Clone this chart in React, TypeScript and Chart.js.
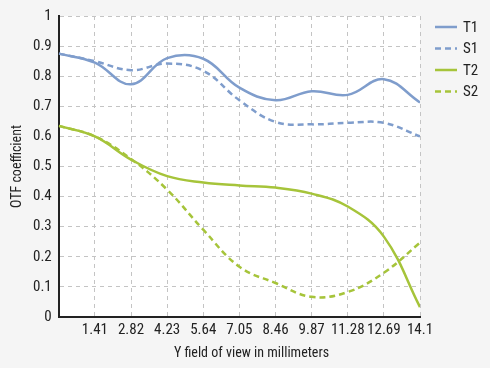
import React, { useEffect, useRef } from "react";
import { Chart, registerables } from "chart.js";

Chart.register(...registerables);

const xTicks = [0, 1.41, 2.82, 4.23, 5.64, 7.05, 8.46, 9.87, 11.28, 12.69, 14.1];
const yTicks = [0, 0.1, 0.2, 0.3, 0.4, 0.5, 0.6, 0.7, 0.8, 0.9, 1];

const seriesNames = ["T1", "S1", "T2", "S2"];
const t1 = [0.875, 0.845, 0.773, 0.86, 0.858, 0.762, 0.72, 0.75, 0.738, 0.79, 0.713];
const s1 = [0.875, 0.85, 0.82, 0.842, 0.818, 0.72, 0.648, 0.64, 0.645, 0.645, 0.6];
const t2 = [0.635, 0.6, 0.523, 0.468, 0.447, 0.437, 0.43, 0.41, 0.367, 0.267, 0.033];
const s2 = [0.635, 0.6, 0.525, 0.423, 0.29, 0.167, 0.113, 0.067, 0.083, 0.147, 0.247];

const xTitle = "Y field of view in millimeters";
const yTitle = "OTF coefficient";

const BLUE = "#7f9dcc";
const GREEN = "#a6c43a";
const FONT = "'Roboto Condensed', 'Liberation Sans Narrow', Roboto, sans-serif";

const toPts = (vals: number[]) => vals.map((v, i) => ({ x: xTicks[i], y: v }));

export default function App() {
  const ref = useRef<HTMLCanvasElement | null>(null);
  useEffect(() => {
    if (!ref.current) return;
    const bgPlugin = {
      id: "bgPlugin",
      beforeDraw(chart: any) {
        const { ctx, chartArea } = chart;
        ctx.save();
        ctx.fillStyle = "#f5f5f5";
        ctx.fillRect(0, 0, chart.width, chart.height);
        ctx.fillStyle = "#ffffff";
        ctx.fillRect(chartArea.left, chartArea.top, chartArea.right - chartArea.left, chartArea.bottom - chartArea.top);
        ctx.restore();
      },
      afterDraw(chart: any) {
        const { ctx, chartArea } = chart;
        ctx.save();
        const ds = chart.data.datasets;
        ds.forEach((d: any, i: number) => {
          const y = 27 + i * 21.5;
          ctx.strokeStyle = d.borderColor;
          ctx.lineWidth = 2.5;
          ctx.setLineDash(d.borderDash || []);
          ctx.beginPath();
          ctx.moveTo(435, y);
          ctx.lineTo(457, y);
          ctx.stroke();
          ctx.setLineDash([]);
          ctx.fillStyle = "#222";
          ctx.font = `15px ${FONT}`;
          ctx.textBaseline = "middle";
          ctx.textAlign = "left";
          ctx.fillText(d.label, 463, y + 1);
        });
        ctx.font = `14px ${FONT}`;
        ctx.textAlign = "center";
        ctx.textBaseline = "middle";
        ctx.fillStyle = "#222";
        ctx.fillText(xTitle, 251.5, 353.5);
        ctx.translate(17.5, (chartArea.top + chartArea.bottom) / 2);
        ctx.rotate(-Math.PI / 2);
        ctx.fillText(yTitle, 0, 0);
        ctx.restore();
      },
    };
    const mk = (label: string, vals: number[], color: string, dash: number[]) => ({
      label,
      data: toPts(vals),
      borderColor: color,
      backgroundColor: color,
      borderWidth: 2.5,
      borderDash: dash,
      pointRadius: 0,
      tension: 0.4,
      fill: false,
    });
    const chart = new Chart(ref.current, {
      type: "line",
      data: {
        datasets: [
          mk(seriesNames[0], t1, BLUE, []),
          mk(seriesNames[1], s1, BLUE, [6, 4]),
          mk(seriesNames[2], t2, GREEN, []),
          mk(seriesNames[3], s2, GREEN, [6, 4]),
        ],
      },
      options: {
        animation: false,
        responsive: false,
        layout: { padding: { top: 11, right: 70, left: 26, bottom: 25 } },
        plugins: { legend: { display: false }, tooltip: { enabled: false } },
        scales: {
          x: {
            type: "linear",
            min: 0,
            max: 14.1,
            afterBuildTicks: (axis: any) => {
              axis.ticks = xTicks.map((v) => ({ value: v }));
            },
            ticks: {
              callback: (v: any) => (v === 0 ? "" : String(v)),
              color: "#222",
              font: { family: FONT, size: 15 },
              maxRotation: 0,
              autoSkip: false,
              padding: 4,
            },
            grid: {
              color: "#c4c4c4",
              lineWidth: 1,
              drawTicks: false,
            },
            border: { display: true, color: "#222", width: 2, dash: [4, 4] },
            title: { display: false },
          },
          y: {
            type: "linear",
            min: 0,
            max: 1,
            afterBuildTicks: (axis: any) => {
              axis.ticks = yTicks.map((v) => ({ value: v }));
            },
            ticks: {
              callback: (v: any) => String(v),
              color: "#222",
              font: { family: FONT, size: 15 },
              padding: 7,
            },
            grid: { color: "#c4c4c4", lineWidth: 1, drawTicks: false },
            border: { display: true, color: "#222", width: 2, dash: [4, 4] },
            title: { display: false },
          },
        },
      },
      plugins: [bgPlugin],
    });
    return () => chart.destroy();
  }, []);
  return (
    <div style={{ position: "fixed", left: 0, top: 0, width: 490, height: 368, background: "#f5f5f5" }}>
      <canvas ref={ref} width={490} height={368} style={{ display: "block" }} />
    </div>
  );
}
